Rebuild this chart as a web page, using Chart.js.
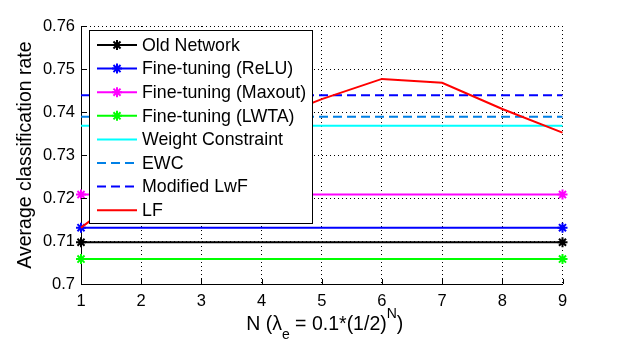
<!DOCTYPE html>
<html>
<head>
<meta charset="utf-8">
<script src="https://cdn.jsdelivr.net/npm/chart.js@4.4.0/dist/chart.umd.min.js"></script>
<style>
  html, body { margin: 0; padding: 0; background: #fff; }
  #wrap { width: 621px; height: 350px; }
</style>
</head>
<body>
<div id="wrap"><canvas id="myChart" width="621" height="350"></canvas></div>
<script>
// N values and results
var nValues = [1, 2, 3, 4, 5, 6, 7, 8, 9];
var endPoints = [1, 9];
var oldNetwork = [0.7097, 0.7097];
var ftRelu = [0.7131, 0.7131];
var ftMaxout = [0.7208, 0.7208];
var ftLwta = [0.7058, 0.7058];
var weightConstraint = [0.7368, 0.7368];
var ewc = [0.7389, 0.7389];
var modifiedLwf = [0.7439, 0.7439];
var lf = [0.7131, 0.7235, 0.7310, 0.7375, 0.7430, 0.7477, 0.7468, 0.7407, 0.7352];
var yTicks = [0.7, 0.71, 0.72, 0.73, 0.74, 0.75, 0.76];

var FONT = "'Liberation Sans', Arial, sans-serif";

function pts(xs, ys) {
  return xs.map(function (x, i) { return { x: x, y: ys[i] }; });
}

function series(label, xs, ys, color, dash, marker) {
  return {
    label: label,
    data: pts(xs, ys),
    borderColor: color,
    backgroundColor: color,
    borderWidth: 2,
    borderDash: dash || [],
    pointStyle: marker ? 'star' : false,
    pointRadius: marker ? 5 : 0,
    pointBorderWidth: 2,
    pointBorderColor: color,
    fill: false,
    tension: 0,
    clip: 10
  };
}

var datasets = [
  series('Old Network', endPoints, oldNetwork, '#000000', null, true),
  series('Fine-tuning (ReLU)', endPoints, ftRelu, '#0000ff', null, true),
  series('Fine-tuning (Maxout)', endPoints, ftMaxout, '#ff00ff', null, true),
  series('Fine-tuning (LWTA)', endPoints, ftLwta, '#00ff00', null, true),
  series('Weight Constraint', endPoints, weightConstraint, '#00ffff', null, false),
  series('EWC', endPoints, ewc, '#0080e6', [9, 5], false),
  series('Modified LwF', endPoints, modifiedLwf, '#0000ff', [9, 5], false),
  series('LF', nValues, lf, '#ff0000', null, false)
];
// later series drawn on top, like the original plot
datasets.forEach(function (d, i) { d.order = datasets.length - i; });

var extras = {
  id: 'extras',
  afterDraw: function (chart) {
    var ctx = chart.ctx, a = chart.chartArea;
    var xs = chart.scales.x, ys = chart.scales.y;
    ctx.save();
    // small inner tick marks
    ctx.strokeStyle = '#000';
    ctx.lineWidth = 1;
    ctx.beginPath();
    yTicks.forEach(function (v) {
      var y = Math.round(ys.getPixelForValue(v)) + 0.5;
      ctx.moveTo(a.left, y); ctx.lineTo(a.left + 5, y);
    });
    nValues.forEach(function (v) {
      var x = Math.round(xs.getPixelForValue(v)) + 0.5;
      ctx.moveTo(x, a.bottom); ctx.lineTo(x, a.bottom - 5);
    });
    ctx.stroke();

    // legend box over the plot
    var lx = 89, ly = 30, lw = 223, lh = 193;
    ctx.fillStyle = '#fff';
    ctx.fillRect(lx, ly, lw, lh);
    ctx.strokeRect(lx + 0.5, ly + 0.5, lw, lh);
    ctx.font = '17.8px ' + FONT;
    ctx.textBaseline = 'middle';
    ctx.textAlign = 'left';
    chart.data.datasets.forEach(function (d, i) {
      var y = 45 + i * 23.6;
      ctx.strokeStyle = d.borderColor;
      ctx.lineWidth = 2;
      ctx.setLineDash(d.borderDash);
      ctx.beginPath();
      ctx.moveTo(97, y); ctx.lineTo(137, y);
      ctx.stroke();
      ctx.setLineDash([]);
      if (d.pointStyle) {
        Chart.helpers.drawPoint(ctx, { pointStyle: 'star', radius: 5, borderWidth: 2 }, 117, y);
      }
      ctx.fillStyle = '#000';
      ctx.fillText(d.label, 142, y + 1);
    });

    // axis titles
    ctx.fillStyle = '#000';
    ctx.font = '19.5px ' + FONT;
    ctx.save();
    ctx.translate(31, (a.top + a.bottom) / 2);
    ctx.rotate(-Math.PI / 2);
    ctx.textAlign = 'center';
    ctx.textBaseline = 'alphabetic';
    ctx.fillText('Average classification rate', 0, 0);
    ctx.restore();

    var big = '19.5px ' + FONT, small = '14px ' + FONT;
    var parts = [
      { t: 'N (\u03bb', f: big, dy: 0 },
      { t: 'e', f: small, dy: 9 },
      { t: ' = 0.1*(1/2)', f: big, dy: 0 },
      { t: 'N', f: small, dy: -12 },
      { t: ')', f: big, dy: 0 }
    ];
    var total = 0;
    parts.forEach(function (p) { ctx.font = p.f; p.w = ctx.measureText(p.t).width; total += p.w; });
    var x = (a.left + a.right) / 2 - total / 2 + 3;
    ctx.textAlign = 'left';
    ctx.textBaseline = 'alphabetic';
    parts.forEach(function (p) {
      ctx.font = p.f;
      ctx.fillText(p.t, x, 330 + p.dy);
      x += p.w;
    });
    ctx.restore();
  }
};

var chart = new Chart('myChart', {
  type: 'line',
  data: { datasets: datasets },
  options: {
    responsive: false,
    animation: false,
    layout: { padding: { left: 0, top: 26, right: 58.5, bottom: 0 } },
    plugins: { legend: { display: false }, tooltip: { enabled: false } },
    scales: {
      x: {
        type: 'linear',
        min: 1, max: 9,
        afterFit: function (s) { s.height = 66; },
        ticks: { stepSize: 1, color: '#000', padding: 8, font: { family: FONT, size: 16.5 } },
        grid: { color: '#000', lineWidth: 1, drawTicks: false },
        border: { display: true, color: '#000', width: 1, dash: [1, 3] }
      },
      y: {
        min: 0.7, max: 0.76,
        afterFit: function (s) { s.width = 81; },
        afterBuildTicks: function (s) { s.ticks = yTicks.map(function (v) { return { value: v }; }); },
        ticks: {
          color: '#000', padding: 6, font: { family: FONT, size: 16.5 },
          callback: function (v) { return String(Number(v.toFixed(2))); }
        },
        grid: { color: '#000', lineWidth: 1, drawTicks: false },
        border: { display: true, color: '#000', width: 1, dash: [1, 3] }
      }
    }
  },
  plugins: [extras]
});
</script>
</body>
</html>
